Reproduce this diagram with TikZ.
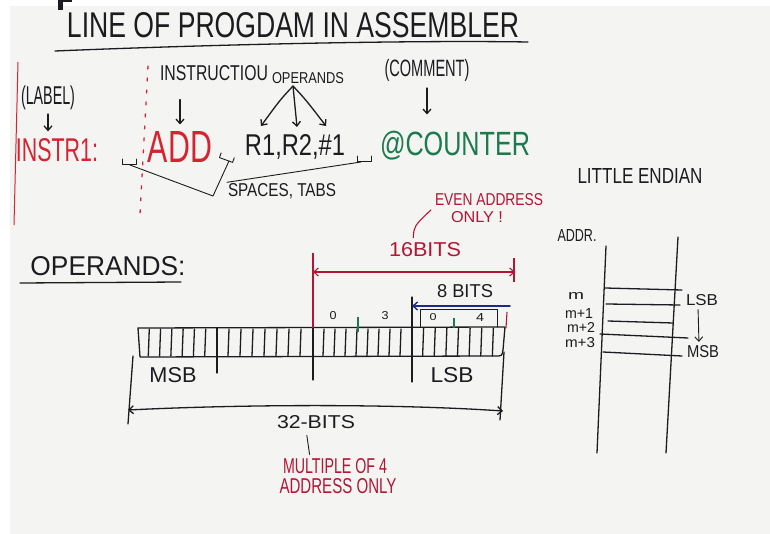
\documentclass[tikz,border=0pt]{standalone}
\usepackage{fontspec}
\setmainfont{Liberation Sans}
\usepackage{graphicx}
\usetikzlibrary{arrows.meta}
\definecolor{board}{RGB}{244,244,242}
\definecolor{ink}{RGB}{28,28,32}
\definecolor{mred}{RGB}{212,36,48}
\definecolor{dred}{RGB}{178,22,52}
\definecolor{mgreen}{RGB}{28,122,78}
\definecolor{mblue}{RGB}{32,42,140}
\newcommand{\hw}[3]{\resizebox{#1pt}{#2pt}{#3}}
\newcommand{\hwt}[3]{\resizebox*{#1pt}{#2pt}{#3}}
\begin{document}
\begin{tikzpicture}[x=1pt,y=-1pt,
  txt/.style={inner sep=0pt, outer sep=1pt, text=ink},
  rtxt/.style={txt, text=mred},
  drtxt/.style={txt, text=dred},
  pen/.style={draw=ink, line width=1.3pt, line cap=round, line join=round},
  thinpen/.style={draw=ink, line width=0.9pt, line cap=round, line join=round},
  barb/.style={-{Straight Barb[length=4.5pt,width=8pt]}},
  dbarb/.style={{Straight Barb[length=4.5pt,width=8pt]}-{Straight Barb[length=4.5pt,width=8pt]}},
  spc/.pic={\draw[thinpen] (-7,-5) -- (-7,0) -- (7,0) -- (7,-5);}
]
\useasboundingbox (0,0) rectangle (770,534);
\fill[white] (0,0) rectangle (770,534);
\fill[board] (10,6) rectangle (770,534);
% fragment at the top edge
\draw[ink, line width=5pt] (60,0) -- (60,10);
\draw[ink, line width=3pt] (60,1) -- (72,1);

% ---------- title ----------
\node[txt] (title) at (293,25) {\hw{452}{25}{LINE OF PROGDAM IN ASSEMBLER}};
\draw[pen] (55,51) .. controls (200,45) and (400,40) .. (528,42);

% ---------- left margin lines ----------
\draw[mred, line width=1pt] (18,62) -- (14,225);
\draw[mred, line width=1.3pt, line cap=round, dash pattern=on 3pt off 9pt] (148,66) -- (140,214);

% ---------- headers ----------
\node[txt] (lbl) at (48,98) {\hwt{54}{24}{(LABEL)}};
\node[txt] (instrw) at (214,73) {\hw{108}{15}{INSTRUCTIOU}};
\node[txt] (ops) at (308,78) {\hw{72}{11}{OPERANDS}};
\node[txt] (cmt) at (427,70) {\hwt{85}{22}{(COMMENT)}};

% ---------- program line ----------
\node[rtxt] (instr) at (57,150) {\hw{82}{23}{INSTR1:}};
\node[rtxt] (add) at (180,147) {\hw{64}{31}{ADD}};
\node[txt] (regs) at (295,147) {\hw{100}{21}{R1,R2,\#1}};
\node[txt, text=mgreen] (cnt) at (455,146) {\hwt{150}{29}{@COUNTER}};

% arrows from headers
\draw[pen, barb, shorten <=3pt, shorten >=6pt] (lbl.south) -- (lbl.south |- instr.north);
\draw[pen, barb, shorten <=18pt, shorten >=6pt] (instrw.south -| add.north) -- (add.north);
\coordinate (apex) at (293,86);
\coordinate (o1) at (261,126);
\coordinate (o2) at (297,127);
\coordinate (o3) at (326,126);
\draw[pen, barb] (apex) .. controls (280,100) .. (o1);
\draw[pen, barb] (apex) -- (o2);
\draw[pen, barb] (apex) .. controls (306,100) .. (o3);
\draw[pen, barb, shorten <=6pt, shorten >=16pt] (cmt.south) -- (cmt.south |- cnt.north);

% spaces / tabs
\pic at (129,164) {spc};
\coordinate (s1) at (130,165);
\pic[rotate=-20] at (226,160) {spc};
\coordinate (s2) at (229,161);
\pic at (364,161) {spc};
\coordinate (s3) at (361,162);
\node[txt] (sp) at (282,191) {\hw{108}{13}{SPACES, TABS}};
\coordinate (j) at (213,196);
\draw[thinpen] (s1) -- (j) -- (s2);
\draw[thinpen] (sp.north west) -- (s3);

% ---------- operands ----------
\node[txt] (opt) at (108,266) {\hw{155}{19}{OPERANDS:}};
\draw[pen] (20,283) -- (181,282);

% bar
\draw[pen] (138,328) -- (505,327) -- (503,350) .. controls (502,356) .. (495,356) -- (140,357) -- cycle;
\foreach \i in {1,...,6} {\draw[pen] ({138+\i*79/7},329) -- ({137+\i*79/7},356);}
\foreach \i in {1,...,7} {\draw[pen] ({217+\i*96/8},329) -- ({216+\i*96/8},356);}
\foreach \i in {1,...,8} {\draw[pen] ({313+\i*99/9},329) -- ({312+\i*99/9},356);}
\foreach \i in {1,...,7} {\draw[pen] ({412+\i*93/8},328) -- ({411+\i*93/8},356);}
\draw[pen] (217,328) -- (217,373);
\draw[pen] (313,328) -- (313,380);
\draw[pen] (412,297) -- (412,382);
\draw[pen] (504,352) -- (500,420);
\draw[pen] (133,356) -- (128,424);

% 16 bits
\draw[dred, line width=1.1pt] (313,253) -- (313,328);
\coordinate (a16) at (313,272);
\coordinate (b16) at (515,272);
\draw[dred, line width=1.1pt, dbarb] (a16) -- (b16);
\draw[dred, line width=1.1pt] (514,258) -- (514,282);
\draw[dred, line width=1.1pt] (507,312) -- (506,328);
\node[drtxt] (t16) at (425,250) {\hw{72}{14}{16BITS}};
\node[drtxt] (even) at (489,200) {\hw{108}{12}{EVEN ADDRESS}};
\node[drtxt] (only) at (477,217) {\hw{52}{11}{ONLY !}};
\draw[dred, line width=1.1pt, shorten <=4pt, shorten >=4pt] ([xshift=-12pt]t16.north) .. controls (414,226) .. (even.south west);

% 8 bits
\coordinate (a8) at (412,306);
\coordinate (b8) at (510,306);
\draw[mblue, line width=1.4pt, line cap=round, {Straight Barb[length=4.5pt,width=8pt]}-] (a8) -- (b8);
\node[txt] (t8) at (465,291) {\hw{56}{13}{8 BITS}};
\draw[thinpen] (420,327) -- (420,309) -- (497,309) -- (497,327);
\node[txt] (n0a) at (333,316) {\hw{7}{8}{0}};
\node[txt] (n3) at (385,316) {\hw{7}{8}{3}};
\node[txt] (n0b) at (433,317) {\hw{7}{7}{0}};
\node[txt] (n4) at (480,317) {\hw{8}{8}{4}};
\draw[mgreen, line width=1.1pt] (358,317) -- (358,332);
\draw[mgreen, line width=1.1pt] (454,318) -- (454,328);

\node[txt] (msb) at (173,375) {\hw{47}{15}{MSB}};
\node[txt] (lsb) at (452,375) {\hw{43}{15}{LSB}};

% 32 bits
\coordinate (a32) at (128,410);
\coordinate (b32) at (503,411);
\draw[pen, dbarb] (a32) .. controls (250,404) and (400,404) .. (b32);
\node[txt] (t32) at (316,422) {\hw{78}{13}{32-BITS}};
\node[drtxt] (mult) at (335,466) {\hw{104}{15}{MULTIPLE OF 4}};
\node[drtxt] (aonly) at (338,486) {\hw{117}{15}{ADDRESS ONLY}};
\draw[thinpen, shorten <=6pt, shorten >=3pt] ([xshift=-10pt]t32.south) -- ([xshift=-25pt]mult.north);

% ---------- little endian ----------
\node[txt] (le) at (640,176) {\hw{125}{15}{LITTLE ENDIAN}};
\node[txt] (addr) at (577,236) {\hw{39}{12}{ADDR.}};
\draw[pen] (606,246) -- (597,453);
\draw[pen] (678,237) -- (666,453);
\draw[pen] (605,288) -- (682,290);
\draw[pen] (606,304) -- (680,305);
\draw[pen] (608,321) -- (673,323);
\draw[pen] (600,334) -- (688,338);
\draw[pen] (603,352) -- (682,356);
\node[txt] (m0) at (576,296) {\hw{16}{7}{m}};
\node[txt] (m1) at (579,313) {\hw{28}{10}{m+1}};
\node[txt] (m2) at (581,327) {\hw{28}{10}{m+2}};
\node[txt] (m3) at (580,343) {\hw{30}{10}{m+3}};
\node[txt] (lsbr) at (702,300) {\hw{32}{11}{LSB}};
\node[txt] (msbr) at (703,352) {\hw{32}{12}{MSB}};
\draw[thinpen, barb, shorten <=3pt, shorten >=3pt] (lsbr.south) ++(-4,0) -- ([xshift=-4pt]msbr.north);
\end{tikzpicture}
\end{document}
